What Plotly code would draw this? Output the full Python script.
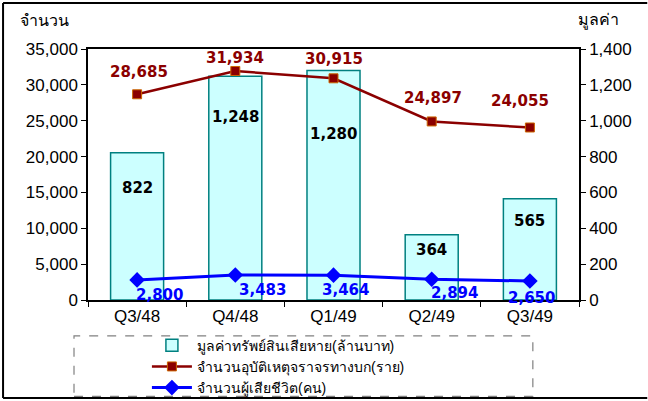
import plotly.graph_objects as go

quarters = ["Q3/48", "Q4/48", "Q1/49", "Q2/49", "Q3/49"]
damage_value = [822, 1248, 1280, 364, 565]          # มูลค่าทรัพย์สินเสียหาย (ล้านบาท)
accidents = [28685, 31934, 30915, 24897, 24055]      # จำนวนอุบัติเหตุ (ราย)
deaths = [2800, 3483, 3464, 2894, 2650]              # จำนวนผู้เสียชีวิต (คน)

# label offsets in px (style only)
bar_lbl_shift = [-35, -41, -63, -15, -22]
red_lbl_shift = [22, 13, 19, 23, 26]
red_lbl_xshift = [2, 0, 0, 1, -10]
blue_lbl_xshift = [22, 27, 12, 23, 2]
blue_lbl_shift = [-15, -15, -15, -14, -17]

FONT = "Liberation Sans, Arial, sans-serif"
LBL = "DejaVu Sans, Verdana, sans-serif"

fig = go.Figure()

fig.add_trace(go.Bar(
    x=quarters, y=damage_value, yaxis="y",
    name="มูลค่าทรัพย์สินเสียหาย(ล้านบาท)",
    marker=dict(color="#CCFFFF", line=dict(color="#008080", width=1.5)),
    width=0.54,
))
fig.add_trace(go.Scatter(
    x=quarters, y=accidents, yaxis="y2", mode="lines+markers",
    name="จำนวนอุบัติเหตุจราจรทางบก(ราย)",
    line=dict(color="#8B0000", width=2.5),
    marker=dict(symbol="square", size=9, color="#8B0000",
                line=dict(color="#CC6600", width=1)),
))
fig.add_trace(go.Scatter(
    x=quarters, y=deaths, yaxis="y2", mode="lines+markers",
    name="จำนวนผู้เสียชีวิต(คน)",
    line=dict(color="#0000FF", width=3),
    marker=dict(symbol="diamond", size=12, color="#0000FF"),
))

lbl_font = dict(family=LBL, size=15)
for i, q in enumerate(quarters):
    fig.add_annotation(x=q, y=damage_value[i], yref="y", text=f"<b>{damage_value[i]:,}</b>",
                       showarrow=False, yshift=bar_lbl_shift[i],
                       font=dict(lbl_font, color="black"))
    fig.add_annotation(x=q, y=accidents[i], yref="y2", text=f"<b>{accidents[i]:,}</b>",
                       showarrow=False, yshift=red_lbl_shift[i], xshift=red_lbl_xshift[i],
                       font=dict(lbl_font, color="#8B0000"))
    fig.add_annotation(x=q, y=deaths[i], yref="y2", text=f"<b>{deaths[i]:,}</b>",
                       showarrow=False, yshift=blue_lbl_shift[i], xshift=blue_lbl_xshift[i],
                       font=dict(lbl_font, color="#0000FF"))

fig.add_annotation(x=-0.0876, y=1.115, xref="paper", yref="paper", text="จำนวน",
                   xanchor="center", yanchor="middle",
                   showarrow=False, font=dict(family=FONT, size=16, color="black"))
fig.add_annotation(x=1.039, y=1.115, xref="paper", yref="paper", text="มูลค่า",
                   xanchor="center", yanchor="middle",
                   showarrow=False, font=dict(family=FONT, size=16, color="black"))

# outer frame (left, top, bottom) + dashed legend box
frame = dict(color="black", width=2)
fig.add_shape(type="line", xref="paper", yref="paper", x0=-0.173, x1=-0.173, y0=-0.39, y1=1.183, line=frame)
fig.add_shape(type="line", xref="paper", yref="paper", x0=-0.173, x1=1.139, y0=1.183, y1=1.183, line=frame)
fig.add_shape(type="line", xref="paper", yref="paper", x0=-0.173, x1=1.139, y0=-0.39, y1=-0.39, line=frame)
fig.add_shape(type="rect", xref="paper", yref="paper", x0=-0.0285, x1=0.906, y0=-0.384, y1=-0.143,
              line=dict(color="#808080", width=1.2, dash="dash"))

fig.update_layout(
    width=648, height=401,
    margin=dict(l=88, r=69, t=49, b=101, autoexpand=False),
    paper_bgcolor="white", plot_bgcolor="white",
    font=dict(family=FONT, size=17, color="black"),
    bargap=0.46,
    showlegend=True,
    legend=dict(x=0.12, y=-0.118, xanchor="left", yanchor="top",
                font=dict(family=FONT, size=14, color="black"),
                bgcolor="rgba(0,0,0,0)", tracegroupgap=0, itemwidth=40),
    xaxis=dict(showline=True, linecolor="black", linewidth=1.5, mirror=True,
               ticks="outside", tickson="boundaries", ticklen=5, tickcolor="black",
               showgrid=False, automargin=False),
    yaxis=dict(side="right", range=[0, 1400], dtick=200, tickformat=",",
               showline=True, linecolor="black", linewidth=1.5,
               ticks="outside", ticklen=5, tickcolor="black", showgrid=False,
               zeroline=False, automargin=False),
    yaxis2=dict(side="left", overlaying="y", range=[0, 35000], dtick=5000, tickformat=",",
                showline=True, linecolor="black", linewidth=1.5,
                ticks="outside", ticklen=5, tickcolor="black", showgrid=False,
                zeroline=False, automargin=False),
)

fig.write_html("out.html", config={"displayModeBar": False},
               post_script="document.body.style.margin='0';")
